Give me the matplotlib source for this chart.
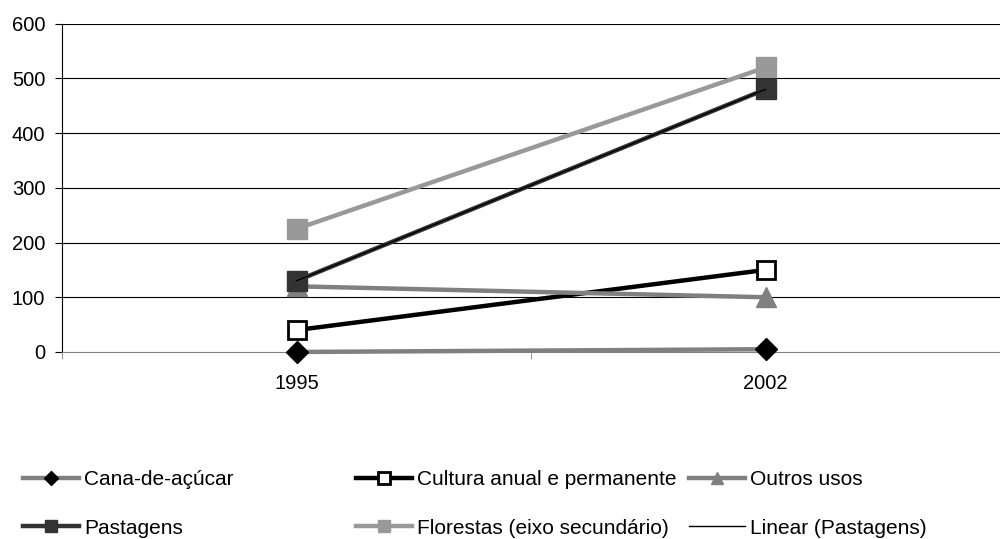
import matplotlib.pyplot as plt
import numpy as np

years = ['1995', '2002']
cana = [0, 5]
cultura = [40, 150]
outros = [120, 100]
pastagens = [130, 480]
florestas = [225, 520]

plt.rcParams['font.family'] = ['Liberation Sans', 'DejaVu Sans']

fig = plt.figure(figsize=(10, 5.39), dpi=100)
ax = fig.add_axes([0.062, 0.347, 0.938, 0.609])

x = np.arange(len(years))

# horizontal gridlines
for v in range(100, 700, 100):
    ax.axhline(v, color='black', lw=0.8, zorder=0)

kw = dict(lw=3.2, clip_on=False, zorder=3)
ax.plot(x, cana, '-', color='#808080', marker='D', ms=11,
        mfc='black', mec='black', label='Cana-de-açúcar', **kw)
ax.plot(x, cultura, '-', color='black', marker='s', ms=13,
        mfc='white', mec='black', mew=2, label='Cultura anual e permanente', **kw)
ax.plot(x, outros, '-', color='#808080', marker='^', ms=14,
        mfc='#808080', mec='#808080', label='Outros usos', **kw)
ax.plot(x, pastagens, '-', color='#333333', marker='s', ms=14,
        mfc='#333333', mec='#333333', label='Pastagens', **kw)
ax.plot(x, florestas, '-', color='#999999', marker='s', ms=14,
        mfc='#999999', mec='#999999', label='Florestas (eixo secundário)', **kw)

# linear trend of Pastagens
coef = np.polyfit(x, pastagens, 1)
ax.plot(x, np.polyval(coef, x), '-', color='black', lw=1, label='Linear (Pastagens)', zorder=4)

ax.set_xlim(-0.5, 1.5)
ax.set_ylim(0, 600)
ax.set_yticks(range(0, 700, 100))
ax.set_xticks(x)
ax.set_xticklabels(years)
ax.set_xticks([-0.5, 0.5, 1.5], minor=True)
ax.tick_params(axis='x', which='major', length=0, labelsize=14.5, pad=16)
ax.tick_params(axis='x', which='minor', length=5, direction='out', color='#808080')
ax.tick_params(axis='y', length=5, direction='out', labelsize=14.5, pad=7)

for s in ['top', 'right']:
    ax.spines[s].set_visible(False)
ax.spines['bottom'].set_color('#808080')
ax.spines['left'].set_color('black')
ax.spines['left'].set_linewidth(0.8)

# legend: one small legend per entry, laid out in a 3x2 grid
h, l = ax.get_legend_handles_labels()
slots = {0: (0.023, 0.1095), 1: (0.356, 0.1095), 2: (0.689, 0.1095),
         3: (0.023, 0.0204), 4: (0.356, 0.0204), 5: (0.689, 0.0204)}
for i, (xp, yp) in slots.items():
    fig.legend([h[i]], [l[i]], loc='center left', bbox_to_anchor=(xp, yp),
               frameon=False, fontsize=15, handlelength=2.7, markerscale=0.65,
               handletextpad=0.25, borderpad=0, borderaxespad=0)

fig.savefig('out.png', dpi=100)
